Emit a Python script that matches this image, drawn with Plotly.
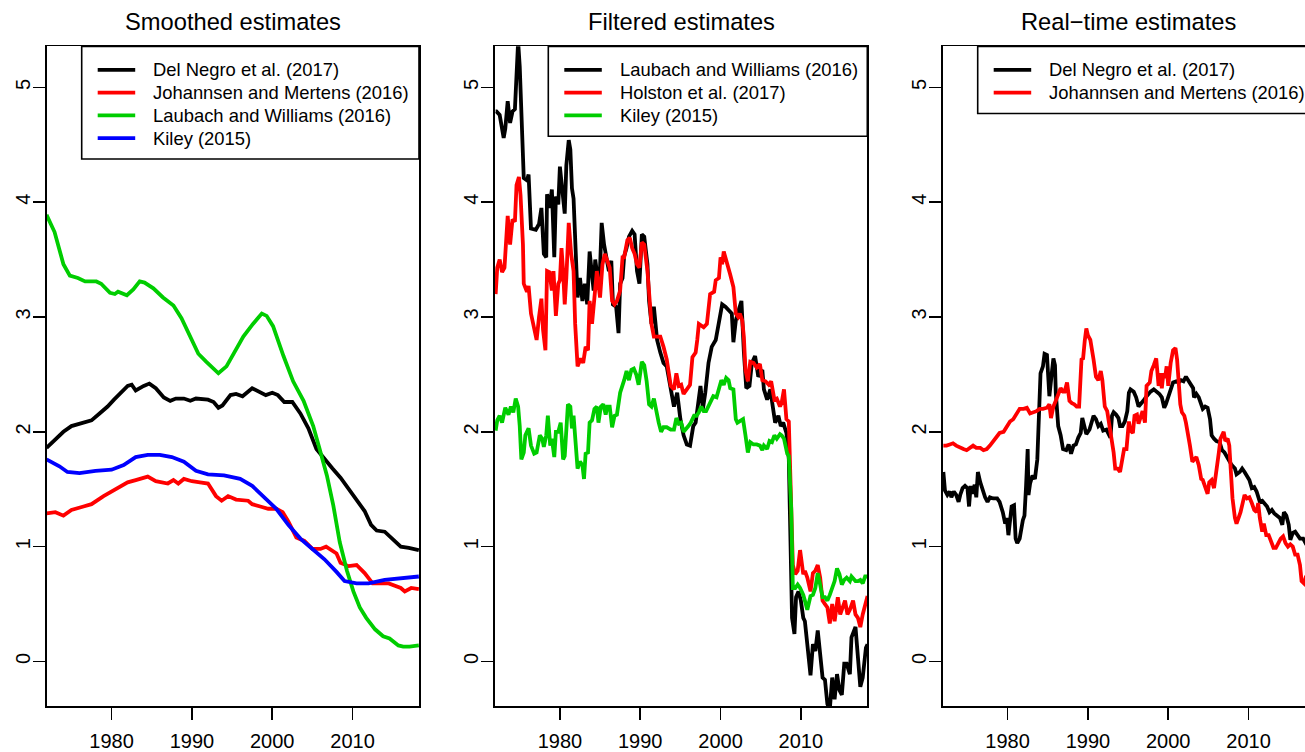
import plotly.graph_objects as go

W, H = 1305, 752
FONT = "Liberation Sans, Arial, Helvetica, sans-serif"

# ---------------- Panel 1: Smoothed estimates ----------------
sm_dn_x = [1971.9, 1973, 1974, 1975, 1976.5, 1977.5, 1978.5, 1979.5, 1980.3, 1981, 1982, 1982.5, 1983,
           1984, 1984.7, 1985.5, 1986.5, 1987.3, 1988, 1989, 1989.8, 1990.5, 1992, 1992.7, 1993.3, 1993.8,
           1994.8, 1995.5, 1996.3, 1997.5, 1998.5, 1999.2, 2000, 2000.7, 2001.5, 2002.5, 2003.5, 2004.5,
           2005.5, 2006.5, 2007.5, 2008.5, 2009.5, 2010.5, 2011.5, 2012.3, 2013, 2014, 2015, 2016, 2017, 2018.25]
sm_dn_y = [1.86, 1.93, 2.00, 2.05, 2.08, 2.10, 2.16, 2.22, 2.28, 2.33, 2.40, 2.41, 2.36,
           2.40, 2.42, 2.38, 2.30, 2.27, 2.29, 2.29, 2.27, 2.29, 2.28, 2.26, 2.21, 2.23,
           2.32, 2.33, 2.31, 2.38, 2.35, 2.32, 2.34, 2.32, 2.26, 2.26, 2.16, 2.03,
           1.85, 1.76, 1.68, 1.60, 1.50, 1.41, 1.31, 1.19, 1.14, 1.13, 1.07, 1.00, 0.99, 0.97]

sm_jm_x = [1971.9, 1973, 1974, 1975, 1976.5, 1977.5, 1979, 1980.5, 1982, 1983, 1984.5, 1985.5, 1987,
           1987.7, 1988.3, 1989, 1990, 1991, 1992, 1993, 1993.7, 1994.5, 1995.5, 1997, 1997.5, 1998.5,
           1999.5, 2000.5, 2001.3, 2002, 2003, 2004, 2005, 2006, 2006.7, 2008, 2008.5, 2009.5, 2010.5,
           2011.5, 2012.5, 2013.5, 2014.5, 2016, 2016.5, 2017.3, 2018.25]
sm_jm_y = [1.29, 1.30, 1.27, 1.32, 1.35, 1.37, 1.44, 1.50, 1.56, 1.58, 1.61, 1.57, 1.55,
           1.58, 1.55, 1.59, 1.57, 1.56, 1.55, 1.44, 1.40, 1.44, 1.41, 1.40, 1.37, 1.35,
           1.33, 1.33, 1.30, 1.22, 1.08, 1.05, 0.98, 0.98, 1.00, 0.94, 0.86, 0.83, 0.84,
           0.77, 0.68, 0.68, 0.68, 0.64, 0.61, 0.64, 0.63]

sm_lw_x = [1971.9, 1972.9, 1974.0, 1974.8, 1975.8, 1976.7, 1978.1, 1978.7, 1979.8, 1980.4, 1980.8,
           1981.9, 1982.7, 1983.5, 1984.1, 1985.2, 1986.4, 1987.7, 1988.7, 1989.7, 1990.8, 1991.8,
           1993.3, 1994.3, 1995.4, 1996.4, 1997.6, 1998.7, 1999.3, 2000.1, 2001.4, 2002.6, 2003.9,
           2005.1, 2005.9, 2006.8, 2007.6, 2008.4, 2009.3, 2010.1, 2010.9, 2011.7, 2012.8, 2013.8,
           2014.6, 2015.7, 2016.3, 2017.1, 2018.25]
sm_lw_y = [3.89, 3.74, 3.46, 3.36, 3.34, 3.31, 3.31, 3.29, 3.21, 3.20, 3.22,
           3.19, 3.24, 3.31, 3.30, 3.25, 3.17, 3.10, 2.99, 2.84, 2.68, 2.61,
           2.51, 2.57, 2.70, 2.83, 2.94, 3.03, 3.01, 2.92, 2.66, 2.44, 2.27,
           2.05, 1.85, 1.62, 1.36, 1.04, 0.79, 0.61, 0.47, 0.38, 0.28, 0.22,
           0.20, 0.14, 0.13, 0.13, 0.14]

sm_ki_x = [1971.9, 1973.5, 1974.5, 1976, 1978, 1980, 1981.5, 1983, 1984.5, 1986, 1987.5, 1989,
           1990.5, 1992, 1994, 1996, 1997.5, 1999, 2000.5, 2002, 2003.5, 2005, 2006.5, 2008,
           2009, 2010.5, 2012, 2014, 2015.5, 2017, 2018.25]
sm_ki_y = [1.76, 1.70, 1.65, 1.64, 1.66, 1.67, 1.71, 1.78, 1.80, 1.80, 1.78, 1.74,
           1.66, 1.63, 1.62, 1.59, 1.53, 1.43, 1.33, 1.19, 1.07, 0.98, 0.89, 0.78,
           0.70, 0.68, 0.68, 0.71, 0.72, 0.73, 0.74]

# ---------------- Panel 2: Filtered estimates ----------------
fi_lw_x = [1972.0, 1972.1, 1972.5, 1973.0, 1973.2, 1973.5, 1973.8, 1974.1, 1974.4, 1974.6, 1974.8, 1975.0,
           1975.3, 1975.5, 1975.9, 1976.1, 1976.4, 1977.0, 1977.4, 1977.7, 1978.0, 1978.3, 1978.4, 1978.7,
           1979.0, 1979.3, 1979.5, 1979.8, 1980.0, 1980.3, 1980.6, 1980.8, 1981.1, 1981.3, 1981.5, 1981.7,
           1981.9, 1982.2, 1982.5, 1982.8, 1983.1, 1983.4, 1983.7, 1983.9, 1984.2, 1984.4, 1984.7, 1985.0,
           1985.2, 1985.5, 1985.8, 1986.1, 1986.4, 1986.6, 1987.0, 1987.3, 1987.5, 1987.8, 1988.0, 1988.3,
           1988.6, 1989.0, 1989.3, 1989.6, 1989.9, 1990.2, 1990.5, 1990.9, 1991.1, 1991.4, 1991.7, 1992.1,
           1992.5, 1992.9, 1993.3, 1993.8, 1994.2, 1994.6, 1995.0, 1995.4, 1995.8, 1996.2, 1996.6, 1996.9,
           1997.2, 1997.5, 1997.8, 1998.1, 1998.5, 1998.9, 1999.4, 1999.8, 2000.2, 2000.6, 2001.0, 2001.4,
           2001.6, 2001.9, 2002.3, 2002.6, 2002.9, 2003.2, 2003.6, 2003.9, 2004.3, 2004.7, 2005.2, 2005.4,
           2005.8, 2006.2, 2006.5, 2006.8, 2007.2, 2007.5, 2007.8, 2008.2, 2008.5, 2008.7, 2008.9, 2009.2,
           2009.4, 2009.7, 2010.0, 2010.3, 2010.5, 2010.8, 2011.2, 2011.5, 2011.8, 2012.1, 2012.4, 2012.7,
           2013.0, 2013.3, 2013.6, 2013.9, 2014.2, 2014.5, 2014.8, 2015.1, 2015.4, 2015.7, 2016.1, 2016.3,
           2016.8, 2017.1, 2017.4, 2017.7, 2018.1, 2018.3]
fi_lw_y = [4.79, 4.79, 4.76, 4.56, 4.64, 4.88, 4.69, 4.79, 4.81, 5.24, 5.40, 5.18,
           4.55, 4.21, 4.19, 4.24, 3.77, 3.76, 3.81, 3.95, 3.55, 3.52, 4.07, 3.95,
           4.11, 3.52, 4.05, 3.98, 4.31, 4.09, 3.90, 4.32, 4.54, 4.46, 4.12, 4.03,
           3.63, 3.17, 3.34, 3.14, 3.29, 3.11, 3.57, 3.40, 3.23, 3.50, 3.34, 3.43,
           3.82, 3.63, 3.52, 3.40, 3.49, 3.11, 3.09, 2.86, 3.29, 3.34, 3.53, 3.60,
           3.70, 3.75, 3.72, 3.40, 3.29, 3.72, 3.70, 3.46, 3.14, 2.94, 3.09, 2.80,
           2.69, 2.60, 2.57, 2.37, 2.22, 2.34, 2.11, 1.97, 1.89, 1.88, 2.05, 2.08,
           2.22, 2.40, 2.20, 2.34, 2.60, 2.74, 2.80, 2.95, 3.11, 3.09, 3.06, 3.03,
           2.78, 2.97, 3.07, 3.14, 2.70, 2.38, 2.40, 2.60, 2.66, 2.48, 2.54, 2.37,
           2.28, 2.37, 2.22, 2.08, 2.14, 2.05, 2.08, 1.99, 1.76, 1.04, 0.38, 0.24,
           0.56, 0.61, 0.53, 0.38, 0.35, 0.15, -0.12, 0.15, 0.09, 0.27, 0.04, -0.14,
           -0.16, -0.37, -0.42, -0.14, -0.33, -0.11, -0.25, -0.29, -0.02, -0.02, -0.11, 0.21,
           0.30, 0.07, -0.22, -0.14, 0.12, 0.15]

fi_ho_x = [1972.0, 1972.2, 1972.5, 1972.8, 1973.1, 1973.4, 1973.5, 1973.8, 1974.1, 1974.4, 1974.6, 1974.9,
           1975.1, 1975.4, 1975.5, 1975.9, 1976.1, 1976.4, 1976.8, 1977.1, 1977.4, 1977.7, 1977.9, 1978.2,
           1978.4, 1978.7, 1979.0, 1979.2, 1979.5, 1979.8, 1980.0, 1980.2, 1980.4, 1980.6, 1980.8, 1981.1,
           1981.4, 1981.7, 1981.9, 1982.2, 1982.6, 1982.9, 1983.2, 1983.5, 1983.7, 1984.0, 1984.3, 1984.6,
           1985.0, 1985.3, 1985.6, 1985.9, 1986.2, 1986.5, 1986.8, 1987.1, 1987.5, 1987.8, 1988.0, 1988.4,
           1988.7, 1989.0, 1989.3, 1989.6, 1989.9, 1990.2, 1990.5, 1990.9, 1991.1, 1991.4, 1991.7, 1992.5,
           1992.9, 1993.3, 1993.8, 1994.2, 1994.5, 1994.8, 1995.1, 1995.4, 1995.8, 1996.2, 1996.5, 1996.9,
           1997.1, 1997.3, 1997.9, 1998.3, 1998.7, 1999.2, 1999.4, 1999.8, 2000.0, 2000.2, 2000.4, 2000.6,
           2000.9, 2001.2, 2001.6, 2001.9, 2002.2, 2002.4, 2002.7, 2002.9, 2003.1, 2003.4, 2003.7, 2004.1,
           2004.5, 2004.9, 2005.2, 2005.6, 2006.0, 2006.3, 2006.7, 2007.0, 2007.4, 2007.6, 2007.9, 2008.2,
           2008.5, 2008.8, 2009.0, 2009.3, 2009.6, 2009.9, 2010.3, 2010.5, 2010.8, 2011.2, 2011.5, 2011.8,
           2012.1, 2012.4, 2012.7, 2013.0, 2013.3, 2013.6, 2013.9, 2014.2, 2014.6, 2014.9, 2015.2, 2015.5,
           2015.8, 2016.1, 2016.5, 2016.8, 2017.1, 2017.4, 2017.7, 2018.0, 2018.3]
fi_ho_y = [3.20, 3.43, 3.50, 3.39, 3.43, 3.75, 3.88, 3.63, 3.85, 3.83, 4.15, 4.22,
           4.06, 3.63, 3.29, 3.22, 3.27, 3.03, 2.89, 2.80, 3.00, 3.16, 2.89, 2.71,
           3.40, 3.39, 3.23, 3.40, 3.01, 3.29, 3.32, 3.60, 3.40, 3.11, 3.34, 3.82,
           3.55, 3.40, 2.94, 2.57, 2.64, 2.60, 2.74, 2.71, 3.14, 2.94, 3.17, 3.40,
           3.17, 3.46, 3.55, 3.49, 3.43, 3.14, 3.11, 3.14, 3.23, 3.52, 3.52, 3.67,
           3.69, 3.60, 3.55, 3.46, 3.43, 3.65, 3.63, 3.40, 3.23, 2.94, 2.83, 2.83,
           2.74, 2.63, 2.40, 2.37, 2.51, 2.40, 2.41, 2.33, 2.37, 2.41, 2.65, 2.69,
           2.80, 2.94, 2.91, 2.94, 3.20, 3.22, 3.32, 3.34, 3.52, 3.46, 3.57, 3.52,
           3.47, 3.37, 3.26, 3.03, 3.00, 3.03, 2.97, 2.83, 2.54, 2.44, 2.61, 2.60,
           2.56, 2.59, 2.45, 2.44, 2.41, 2.44, 2.28, 2.29, 2.22, 2.25, 2.37, 2.11,
           2.09, 1.42, 0.84, 0.76, 0.79, 0.97, 0.76, 0.79, 0.73, 0.61, 0.77, 0.79,
           0.84, 0.73, 0.53, 0.50, 0.47, 0.33, 0.50, 0.35, 0.56, 0.41, 0.47, 0.53,
           0.41, 0.45, 0.53, 0.41, 0.38, 0.30, 0.41, 0.50, 0.57]

fi_ki_x = [1972.0, 1972.2, 1972.5, 1972.8, 1973.2, 1973.6, 1973.9, 1974.2, 1974.5, 1974.8, 1975.0, 1975.2,
           1975.5, 1975.7, 1976.1, 1976.4, 1976.8, 1977.1, 1977.5, 1977.8, 1978.0, 1978.3, 1978.5, 1978.8,
           1979.0, 1979.3, 1979.5, 1979.8, 1980.1, 1980.4, 1980.6, 1980.8, 1981.0, 1981.3, 1981.5, 1981.7,
           1981.9, 1982.2, 1982.5, 1982.8, 1983.0, 1983.2, 1983.5, 1983.7, 1984.0, 1984.3, 1984.6, 1984.8,
           1985.1, 1985.4, 1985.7, 1985.9, 1986.2, 1986.5, 1986.8, 1987.1, 1987.5, 1987.8, 1988.0, 1988.3,
           1988.6, 1988.9, 1989.2, 1989.5, 1989.8, 1990.0, 1990.2, 1990.5, 1990.8, 1991.1, 1991.4, 1991.7,
           1992.0, 1992.3, 1992.6, 1992.9, 1993.3, 1993.8, 1994.2, 1994.5, 1994.8, 1995.1, 1995.4, 1995.7,
           1996.0, 1996.3, 1996.7, 1997.0, 1997.3, 1997.6, 1997.9, 1998.2, 1998.5, 1998.8, 1999.1, 1999.5,
           1999.8, 2000.1, 2000.4, 2000.7, 2001.0, 2001.2, 2001.6, 2001.9, 2002.1, 2002.5, 2002.8, 2003.1,
           2003.4, 2003.7, 2004.1, 2004.5, 2004.9, 2005.2, 2005.4, 2005.8, 2006.1, 2006.4, 2006.7, 2007.0,
           2007.4, 2007.6, 2007.9, 2008.3, 2008.5, 2008.8, 2009.0, 2009.3, 2009.6, 2009.9, 2010.3, 2010.5,
           2010.8, 2011.2, 2011.5, 2011.8, 2012.1, 2012.4, 2012.7, 2013.0, 2013.3, 2013.6, 2014.0, 2014.2,
           2014.5, 2014.8, 2015.1, 2015.4, 2015.7, 2016.1, 2016.3, 2016.8, 2017.1, 2017.4, 2017.7, 2018.0,
           2018.3]
fi_ki_y = [2.01, 2.10, 2.14, 2.08, 2.21, 2.15, 2.22, 2.17, 2.29, 2.22, 2.05, 1.76,
           1.82, 1.97, 2.03, 1.88, 1.81, 1.82, 1.97, 1.94, 1.87, 1.97, 2.14, 1.88,
           1.94, 1.78, 2.00, 2.00, 2.08, 1.76, 1.79, 2.05, 2.24, 2.22, 2.03, 2.14,
           1.97, 1.68, 1.74, 1.71, 1.59, 1.81, 1.82, 2.08, 2.10, 2.20, 2.22, 2.08,
           2.22, 2.24, 2.15, 2.22, 2.22, 2.04, 2.14, 2.15, 2.34, 2.40, 2.45, 2.53,
           2.45, 2.54, 2.55, 2.50, 2.41, 2.51, 2.61, 2.58, 2.44, 2.24, 2.22, 2.29,
           2.17, 2.08, 2.00, 2.04, 2.04, 2.02, 2.02, 2.12, 2.07, 2.08, 2.00, 2.02,
           2.05, 2.08, 2.14, 2.14, 2.17, 2.22, 2.18, 2.18, 2.22, 2.27, 2.31, 2.30,
           2.38, 2.45, 2.41, 2.47, 2.45, 2.38, 2.37, 2.11, 2.08, 2.10, 2.11, 1.97,
           1.82, 1.91, 1.89, 1.89, 1.88, 1.84, 1.88, 1.85, 1.92, 1.91, 1.97, 1.94,
           1.98, 1.97, 1.94, 1.81, 1.79, 1.33, 0.64, 0.64, 0.67, 0.64, 0.58, 0.53,
           0.45, 0.57, 0.58, 0.64, 0.77, 0.67, 0.56, 0.56, 0.53, 0.58, 0.68, 0.70,
           0.81, 0.76, 0.67, 0.71, 0.73, 0.70, 0.74, 0.70, 0.70, 0.71, 0.68, 0.74,
           0.74]

# ---------------- Panel 3: Real-time estimates ----------------
rt_dn_x = [1972.0, 1972.2, 1972.5, 1972.8, 1973.0, 1973.3, 1973.6, 1973.9, 1974.1, 1974.4, 1974.7, 1975.0,
           1975.2, 1975.4, 1975.6, 1975.9, 1976.1, 1976.3, 1976.6, 1976.9, 1977.2, 1977.5, 1977.8, 1978.2,
           1978.7, 1979.0, 1979.4, 1979.7, 1979.9, 1980.1, 1980.3, 1980.5, 1980.8, 1981.0, 1981.2, 1981.5,
           1981.9, 1982.1, 1982.3, 1982.5, 1982.6, 1982.8, 1983.1, 1983.4, 1983.7, 1983.9, 1984.1, 1984.4,
           1984.6, 1984.9, 1985.0, 1985.2, 1985.5, 1985.7, 1985.9, 1986.0, 1986.3, 1986.6, 1986.9, 1987.3,
           1987.6, 1987.9, 1988.2, 1988.5, 1988.8, 1989.1, 1989.3, 1989.6, 1989.8, 1990.2, 1990.5, 1990.7,
           1991.0, 1991.3, 1991.6, 1991.9, 1992.3, 1992.5, 1992.8, 1993.0, 1993.2, 1993.5, 1993.8, 1994.0,
           1994.3, 1994.6, 1994.9, 1995.1, 1995.3, 1995.7, 1996.0, 1996.3, 1996.6, 1996.9, 1997.2, 1997.5,
           1997.8, 1998.2, 1998.6, 1998.9, 1999.2, 1999.5, 1999.7, 2000.0, 2000.3, 2000.6, 2001.0, 2001.3,
           2001.6, 2001.9, 2002.2, 2002.5, 2002.8, 2003.1, 2003.2, 2003.5, 2003.8, 2004.1, 2004.3, 2004.6,
           2004.9, 2005.2, 2005.4, 2005.7, 2006.0, 2006.4, 2006.7, 2007.0, 2007.3, 2007.6, 2007.9, 2008.3,
           2008.5, 2008.9, 2009.2, 2009.5, 2009.8, 2010.1, 2010.4, 2010.7, 2011.0, 2011.4, 2011.7, 2011.9,
           2012.3, 2012.6, 2012.9, 2013.2, 2013.5, 2013.9, 2014.2, 2014.4, 2014.7, 2015.0, 2015.2, 2015.5,
           2015.8, 2016.1, 2016.4, 2016.8, 2017.1, 2017.5, 2018.0, 2018.25]
rt_dn_y = [1.65, 1.49, 1.45, 1.48, 1.43, 1.48, 1.45, 1.39, 1.45, 1.51, 1.53, 1.51,
           1.35, 1.53, 1.46, 1.54, 1.43, 1.65, 1.56, 1.48, 1.43, 1.39, 1.43, 1.42,
           1.42, 1.39, 1.30, 1.20, 1.25, 1.10, 1.25, 1.35, 1.36, 1.07, 1.03, 1.07,
           1.23, 1.27, 1.53, 1.85, 1.45, 1.55, 1.62, 1.59, 1.76, 2.20, 2.51, 2.57,
           2.68, 2.67, 2.54, 2.31, 2.51, 2.64, 2.58, 2.34, 2.05, 1.97, 1.85, 1.84,
           1.89, 1.81, 1.88, 1.89, 1.95, 1.99, 2.12, 2.05, 1.98, 2.02, 2.08, 2.14,
           2.11, 2.05, 2.07, 2.01, 2.02, 1.99, 1.95, 2.14, 2.17, 2.15, 2.12, 2.05,
           2.05, 2.09, 2.18, 2.34, 2.37, 2.35, 2.30, 2.22, 2.24, 2.27, 2.30, 2.33,
           2.35, 2.37, 2.35, 2.33, 2.30, 2.21, 2.24, 2.31, 2.37, 2.43, 2.44, 2.43,
           2.45, 2.44, 2.48, 2.45, 2.41, 2.38, 2.30, 2.33, 2.30, 2.25, 2.20, 2.22,
           2.21, 2.11, 1.97, 1.94, 1.92, 1.91, 1.84, 1.82, 1.78, 1.75, 1.71, 1.68,
           1.63, 1.65, 1.68, 1.65, 1.62, 1.58, 1.51, 1.52, 1.48, 1.39, 1.40, 1.38,
           1.35, 1.30, 1.32, 1.29, 1.27, 1.25, 1.19, 1.30, 1.27, 1.19, 1.06, 1.12,
           1.13, 1.10, 1.07, 1.07, 1.03, 1.04, 1.02, 1.03]

rt_jm_x = [1972.0, 1972.4, 1972.8, 1973.2, 1973.6, 1974.1, 1974.5, 1974.9, 1975.3, 1975.7, 1976.1, 1976.6,
           1977.0, 1977.4, 1977.8, 1978.2, 1978.6, 1979.0, 1979.5, 1979.9, 1980.3, 1980.7, 1981.1, 1981.5,
           1982.0, 1982.4, 1982.8, 1983.2, 1983.6, 1984.0, 1984.4, 1984.9, 1985.2, 1985.4, 1985.7, 1986.0,
           1986.3, 1986.6, 1986.9, 1987.1, 1987.4, 1987.7, 1988.0, 1988.3, 1988.6, 1988.9, 1989.2, 1989.4,
           1989.6, 1989.8, 1990.0, 1990.3, 1990.7, 1991.0, 1991.3, 1991.6, 1991.8, 1992.1, 1992.4, 1992.7,
           1992.9, 1993.2, 1993.4, 1993.7, 1994.0, 1994.3, 1994.5, 1994.8, 1995.1, 1995.3, 1995.6, 1995.8,
           1996.1, 1996.3, 1996.6, 1996.8, 1997.1, 1997.3, 1997.7, 1997.9, 1998.2, 1998.5, 1998.8, 1999.0,
           1999.2, 1999.4, 1999.6, 1999.8, 2000.0, 2000.3, 2000.6, 2000.9, 2001.1, 2001.3, 2001.5, 2001.7,
           2002.0, 2002.2, 2002.5, 2002.7, 2003.0, 2003.2, 2003.5, 2003.8, 2004.1, 2004.3, 2004.6, 2004.9,
           2005.1, 2005.4, 2005.7, 2006.0, 2006.3, 2006.5, 2006.9, 2007.1, 2007.4, 2007.6, 2007.8, 2008.0,
           2008.3, 2008.5, 2008.8, 2009.0, 2009.3, 2009.5, 2009.8, 2010.1, 2010.4, 2010.7, 2011.0, 2011.2,
           2011.4, 2011.7, 2011.9, 2012.2, 2012.5, 2012.8, 2013.1, 2013.4, 2013.7, 2014.0, 2014.3, 2014.6,
           2014.9, 2015.2, 2015.5, 2015.8, 2016.1, 2016.4, 2016.6, 2016.9, 2017.1, 2017.6, 2018.25]
rt_jm_y = [1.88, 1.88, 1.89, 1.90, 1.88, 1.86, 1.85, 1.84, 1.86, 1.88, 1.86, 1.86,
           1.84, 1.85, 1.88, 1.92, 1.95, 1.99, 2.00, 2.05, 2.09, 2.11, 2.15, 2.20,
           2.20, 2.21, 2.16, 2.17, 2.18, 2.20, 2.20, 2.21, 2.24, 2.12, 2.22, 2.27,
           2.33, 2.38, 2.35, 2.35, 2.43, 2.27, 2.25, 2.24, 2.22, 2.22, 2.63, 2.64,
           2.79, 2.90, 2.84, 2.80, 2.63, 2.48, 2.45, 2.53, 2.45, 2.22, 2.18, 2.05,
           1.94, 1.82, 1.68, 1.68, 1.65, 1.76, 1.85, 1.85, 2.09, 2.01, 1.99, 2.14,
           2.15, 2.07, 2.14, 2.18, 2.08, 2.40, 2.43, 2.53, 2.58, 2.64, 2.40, 2.51,
           2.38, 2.51, 2.47, 2.57, 2.40, 2.60, 2.71, 2.73, 2.63, 2.43, 2.24, 2.17,
           2.14, 2.08, 1.97, 1.88, 1.74, 1.76, 1.78, 1.71, 1.59, 1.58, 1.51, 1.46,
           1.56, 1.58, 1.51, 1.65, 1.82, 1.94, 2.00, 1.92, 1.94, 1.88, 1.68, 1.42,
           1.25, 1.20, 1.26, 1.30, 1.39, 1.45, 1.42, 1.43, 1.38, 1.32, 1.30, 1.38,
           1.25, 1.13, 1.20, 1.10, 1.10, 1.04, 0.99, 0.99, 1.04, 1.07, 1.09, 1.03,
           1.00, 1.02, 1.00, 0.93, 0.93, 0.84, 0.70, 0.68, 0.73, 0.72, 0.70]

# ---------------- Panel definitions ----------------
titles = ["Smoothed estimates", "Filtered estimates", "Real\u2212time estimates"]

panel_series = [
    [("Del Negro et al. (2017)", sm_dn_x, sm_dn_y, "#000000"),
     ("Johannsen and Mertens (2016)", sm_jm_x, sm_jm_y, "#FF0000"),
     ("Laubach and Williams (2016)", sm_lw_x, sm_lw_y, "#00CD00"),
     ("Kiley (2015)", sm_ki_x, sm_ki_y, "#0000FF")],
    [("Laubach and Williams (2016)", fi_lw_x, fi_lw_y, "#000000"),
     ("Holston et al. (2017)", fi_ho_x, fi_ho_y, "#FF0000"),
     ("Kiley (2015)", fi_ki_x, fi_ki_y, "#00CD00")],
    [("Del Negro et al. (2017)", rt_dn_x, rt_dn_y, "#000000"),
     ("Johannsen and Mertens (2016)", rt_jm_x, rt_jm_y, "#FF0000")],
]

x_ticks = [1980, 1990, 2000, 2010]
y_ticks = [0, 1, 2, 3, 4, 5]

# pixel geometry
panel_left = [46.7, 495.0, 942.7]
panel_width = 372.3
plot_top, plot_bottom = 46.7, 713.0
x_range = [1971.92, 2018.27]
y_range = [-0.391, 5.358]
legend_left = [81.7, 548.3, 977.7]


def px(x):
    return x / W


def py(y):
    return 1 - y / H


fig = go.Figure()
shapes = []
annotations = []

for i, series in enumerate(panel_series):
    n = "" if i == 0 else str(i + 1)
    left = panel_left[i]
    right = min(left + panel_width, W)
    xr = list(x_range)
    if left + panel_width > W:
        xr[1] = x_range[0] + (W - left) / panel_width * (x_range[1] - x_range[0])
    for name, xs, ys, col in series:
        fig.add_trace(go.Scatter(x=xs, y=ys, mode="lines", name=name,
                                 line=dict(color=col, width=3.8),
                                 xaxis="x" + n, yaxis="y" + n, showlegend=False,
                                 hoverinfo="skip"))
    fig.update_layout(**{
        "xaxis" + n: dict(domain=[px(left), px(right)], range=xr, anchor="y" + n,
                          showline=True, linecolor="black", linewidth=1.6, mirror=True,
                          ticks="outside", ticklen=12, tickwidth=1.6, tickcolor="black",
                          tickvals=x_ticks, ticktext=[str(v) for v in x_ticks],
                          tickfont=dict(family=FONT, size=20, color="black"),
                          showgrid=False, zeroline=False, fixedrange=True,
                          ticklabelstandoff=4),
        "yaxis" + n: dict(domain=[py(plot_bottom), py(plot_top)], range=y_range, anchor="x" + n,
                          showline=True, linecolor="black", linewidth=1.6,
                          mirror=(i < 2),
                          ticks="outside", ticklen=12, tickwidth=1.6, tickcolor="black",
                          tickvals=y_ticks, ticktext=[str(v) for v in y_ticks],
                          tickangle=-90,
                          tickfont=dict(family=FONT, size=20, color="black"),
                          showgrid=False, zeroline=False, fixedrange=True,
                          ticklabelstandoff=-5),
    })
    # title
    annotations.append(dict(text=titles[i], x=px(left + panel_width / 2), y=py(22.5),
                            xref="paper", yref="paper", xanchor="center", yanchor="middle",
                            showarrow=False, font=dict(family=FONT, size=23.7, color="black")))
    # legend (R style, top-right)
    box_right = left + panel_width
    box_left = legend_left[i]
    box_top = plot_top + 0.3
    row0 = box_top + 23.5
    nrow = len(series)
    box_bottom = row0 + 23 * (nrow - 1) + 21
    shapes.append(dict(type="rect", xref="paper", yref="paper",
                       x0=px(box_left), x1=px(box_right), y0=py(box_bottom), y1=py(box_top),
                       line=dict(color="black", width=1.6), fillcolor="white", layer="above"))
    for k, (name, xs, ys, col) in enumerate(series):
        yy = row0 + 23 * k
        shapes.append(dict(type="line", xref="paper", yref="paper",
                           x0=px(box_left + 16), x1=px(box_left + 53.5), y0=py(yy), y1=py(yy),
                           line=dict(color=col, width=3.8), layer="above"))
        annotations.append(dict(text=name, x=px(box_left + 69.5), y=py(yy),
                                xref="paper", yref="paper", xanchor="left", yanchor="middle",
                                showarrow=False,
                                font=dict(family=FONT, size=18.4, color="black")))

fig.update_layout(width=W, height=H, margin=dict(l=0, r=0, t=0, b=0, pad=0),
                  paper_bgcolor="white", plot_bgcolor="white",
                  shapes=shapes, annotations=annotations, showlegend=False,
                  font=dict(family=FONT, color="black"))

fig.write_html("out.html", config={"displayModeBar": False, "staticPlot": True},
               post_script="document.body.style.margin='0';document.body.style.overflow='hidden';")
